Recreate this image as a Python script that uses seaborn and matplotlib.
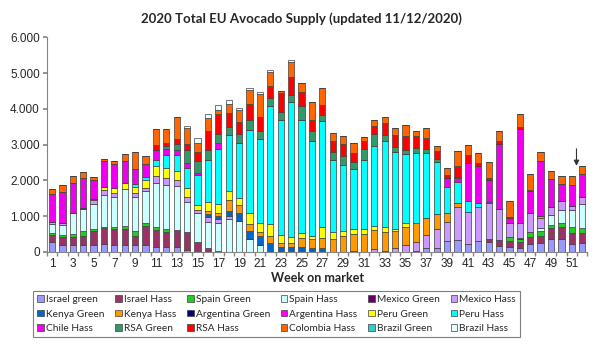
"""Stacked weekly bars of EU avocado supply per origin, 2020."""

import pandas as pd
import seaborn as sns
import matplotlib.pyplot as plt
from matplotlib.patches import Patch
from matplotlib.ticker import FuncFormatter, FixedLocator

weeks = list(range(1, 53))

israel_green = [290, 200, 200, 200, 200, 220, 200, 200, 200, 200, 150, 150, 150, 60,
                0, 0, 0, 0, 0, 0, 0, 0, 0, 0, 0, 0, 0, 0, 0, 0, 0, 0, 0, 0, 0,
                40, 120, 100, 310, 340, 220, 320, 270, 180, 150, 100, 220, 240, 350,
                350, 220, 240]
israel_hass = [190, 230, 210, 250, 390, 440, 440, 450, 260, 530, 470, 420, 470, 510,
               270, 100, 40,
               0, 0, 0, 0, 0, 0, 0, 0, 0, 0, 0, 0, 0, 0, 0, 0, 0, 0, 0, 0, 0, 0, 0,
               0, 0,
               80, 160, 170, 170, 190, 210, 310, 360, 310, 300]
spain_green = [50, 50, 80, 140, 60, 50, 70, 80, 140, 80, 70, 70, 0,
               0, 0, 0, 0, 0, 0, 0, 0, 0, 0, 0, 0, 0, 0, 0, 0, 0, 0, 0, 0, 0, 0, 0,
               0, 0, 0, 0, 0, 0, 0, 0,
               90, 80, 140, 140, 90, 90, 170, 140]
spain_hass = [250, 280, 590, 610, 680, 890, 840, 1030, 950, 890, 1250, 1240, 1230, 840,
              830, 750, 770, 920, 870, 360, 200,
              0, 0, 0, 0, 0, 0, 0, 0, 0, 0, 0, 0, 0, 0, 0, 0, 0, 0, 0, 0, 0, 0, 0, 0,
              0, 0,
              70, 280, 370, 480, 660]
mexico_green = [0, 0, 0, 30, 0, 0, 0, 0, 0, 0, 0, 0, 0, 0, 0, 0, 0, 0, 0, 0, 0, 0, 0,
                0, 0, 0, 0, 0, 0, 40, 0, 0, 40, 0, 0, 0, 0, 0, 0, 0, 0, 0, 0, 0, 0,
                50, 0, 0, 0, 0, 0, 0]
mexico_hass = [50, 60, 0, 0, 110, 140, 90, 0, 90, 90, 190, 190, 170, 140, 80, 140, 120,
               80,
               0, 0, 0, 0, 0, 0, 0, 0, 0, 0, 0, 0, 0,
               70, 0, 100, 200, 230, 360, 540, 520, 930, 890, 950, 1010, 860, 410, 400,
               540, 280, 230, 260, 110, 190]
kenya_green = [0, 0, 0, 0, 0, 0, 0, 0, 0, 0, 0, 0, 0, 0, 0,
               70, 90, 140, 220, 230, 250, 240, 150, 130, 130, 100, 100,
               0, 0, 0, 0, 0, 0, 0, 0, 0, 0, 0, 0, 0, 0, 0, 0, 0, 0, 0, 0, 0, 0, 0,
               0, 0]
kenya_hass = [0, 0, 0, 0, 50, 0, 0, 0, 0, 0, 0, 0, 0, 0, 0,
              90, 70, 300, 210, 190, 110, 210, 90, 110, 250, 260, 300, 360, 450, 470,
              500, 540, 530, 500, 510, 530, 470, 420, 270, 110,
              0, 0, 0, 0, 0, 0, 0, 60, 0, 0, 0, 0]
argentina_green = [0] * 52
argentina_hass = [0] * 52
peru_green = [0, 0, 0, 0, 0,
              90, 140, 170, 190, 230, 260, 280, 230, 230, 140, 260, 250, 260, 210, 310,
              240, 330, 230, 170, 140, 90, 310, 200, 150, 130, 140, 120, 120, 40, 110,
              0, 0, 0, 0, 0, 0, 0, 0, 0, 0, 0, 0, 0, 0, 0, 0, 0]
peru_hass = [0, 0, 0, 0, 0, 0, 0, 0,
             70, 80, 190, 370, 470, 580, 820, 1170, 1550, 1560, 1540, 2320, 2360, 3300,
             3220, 3780, 3160, 2660, 2940, 2010, 1820, 1680, 1940, 2240, 2400, 2160,
             1920, 1960, 1820, 1450, 710, 590, 310, 90, 50,
             0, 0, 0, 0, 0, 0, 0, 0, 0]
chile_hass = [790, 870, 840, 830, 510, 700, 680, 610, 420, 370, 280, 160, 140, 120, 70,
              0, 160,
              0, 0, 0, 0, 0, 0, 0, 0, 0, 0, 0, 0, 0, 0, 0, 0, 0, 0, 0, 0, 0,
              250, 90, 1070, 1030, 590, 1830, 120, 2640, 610, 1540, 770, 460, 590, 650]
rsa_green = [0, 0, 0, 0, 0, 0, 0, 0, 0, 0, 0,
             70, 170, 360, 330, 260, 250, 230, 250, 280, 220, 210, 220, 200, 410, 260,
             170, 220, 250, 190, 310, 320, 170, 140, 120, 140, 110, 80,
             0, 50, 0, 0, 0, 0, 0, 0, 0, 0, 0, 0, 0, 0]
rsa_hass = [0, 0, 0, 0, 0, 0, 0, 0, 0, 0,
            140, 110, 130, 180, 250, 530, 560, 400, 340, 440, 400, 350, 530, 510, 380,
            310, 280, 310, 350, 260, 200, 240, 350, 340, 370, 330, 310, 220, 90, 300,
            230, 90, 80, 60, 50, 50, 40, 0, 0, 0, 0, 0]
colombia_hass = [140, 190, 210, 170, 110, 70, 90, 210, 480, 220, 440, 380, 620, 440,
                 260, 380, 120, 260, 320, 390, 640, 400, 50, 410, 250, 510, 470, 230,
                 210, 280, 120, 170, 170, 190, 330, 140, 280, 140, 210, 400, 280, 280,
                 430, 300, 440, 370, 440, 260, 240, 230, 250, 210]
brazil_green = [0] * 52
brazil_hass = [0, 0, 0, 0, 0, 0, 0, 0, 0, 0, 0, 0, 0,
               60, 140, 110, 140, 110, 70, 70, 60, 60, 0, 50,
               0, 0, 0, 0, 0, 0, 0, 0, 0, 0, 0, 0, 0, 0, 0, 0, 0, 0, 0, 0, 0, 0, 0,
               0, 0, 0, 0, 0]

series_names = ["Israel green", "Israel Hass", "Spain Green", "Spain Hass",
                "Mexico Green", "Mexico Hass", "Kenya Green", "Kenya Hass",
                "Argentina Green", "Argentina Hass", "Peru Green", "Peru Hass",
                "Chile Hass", "RSA Green", "RSA Hass", "Colombia Hass",
                "Brazil Green", "Brazil Hass"]
series_values = [israel_green, israel_hass, spain_green, spain_hass, mexico_green,
                 mexico_hass, kenya_green, kenya_hass, argentina_green,
                 argentina_hass, peru_green, peru_hass, chile_hass, rsa_green,
                 rsa_hass, colombia_hass, brazil_green, brazil_hass]
series_colors = ["#9999FF", "#993366", "#22CC22", "#CCFFFF", "#660066", "#CC99FF",
                 "#0066CC", "#FF9900", "#000080", "#FF00FF", "#FFFF00", "#00FFFF",
                 "#EE00EE", "#339966", "#FF0000", "#FF6600", "#33CCCC", "#E6FFFF"]


def build_table():
    """Long table: one row per week and origin."""
    rows = []
    for name, values in zip(series_names, series_values):
        for week, value in zip(weeks, values):
            rows.append({"week": week, "series": name, "value": value})
    return pd.DataFrame(rows)


def supply_plot(data):
    """Draw the stacked bars, axes, legend and arrow."""
    sns.set_theme(style="white")
    plt.rcParams["font.family"] = ["Liberation Sans", "DejaVu Sans"]

    fig = plt.figure(figsize=(6, 3.5), dpi=100)
    ax = fig.add_axes([0.078, 0.28, 0.901, 0.6134])

    palette = dict(zip(series_names, series_colors))
    # seaborn stacks the last hue level at the bottom
    sns.histplot(data=data, x="week", weights="value", hue="series",
                 hue_order=series_names[::-1], palette=palette,
                 multiple="stack", discrete=True, shrink=0.6, alpha=1,
                 edgecolor="#404040", linewidth=0.5, legend=False, ax=ax)

    ax.set_xlim(0.5, 52.5)
    ax.set_ylim(0, 6000)
    ax.set_yticks(range(0, 6001, 1000))
    ax.yaxis.set_major_formatter(
        FuncFormatter(lambda v, _: f"{int(v):,}".replace(",", ".")))
    ax.set_xticks(range(1, 53, 2))
    ax.xaxis.set_minor_locator(FixedLocator([w + 0.5 for w in range(0, 53)]))
    ax.tick_params(axis="x", which="major", length=0, labelsize=8.5, pad=4)
    ax.tick_params(axis="x", which="minor", length=3, color="#868686",
                   direction="out", bottom=True)
    ax.tick_params(axis="y", length=3, color="#868686", direction="out",
                   left=True, labelsize=8.5, pad=2)

    for side in ["top", "right"]:
        ax.spines[side].set_visible(False)
    for side in ["left", "bottom"]:
        ax.spines[side].set_color("#868686")
        ax.spines[side].set_linewidth(0.8)

    ax.set_ylabel("")
    ax.set_xlabel("Week on market", fontsize=9, fontweight="bold",
                  family=["Lato", "DejaVu Sans"], labelpad=2)

    fig.text(0.503, 0.948, "2020 Total EU Avocado Supply (updated 11/12/2020)",
             ha="center", va="center", fontsize=9.5, fontweight="bold",
             family=["Lato", "DejaVu Sans"])

    ax.annotate("", xy=(51.45, 2330), xytext=(51.45, 2960),
                arrowprops=dict(arrowstyle="-|>", color="#333333", lw=0.8,
                                mutation_scale=8))

    # legend reads row by row, matplotlib fills columns first
    handles = [Patch(facecolor=c, edgecolor="#404040", linewidth=0.5, label=n)
               for n, c in zip(series_names, series_colors)]
    ordered = [handles[r * 6 + c] for c in range(6) for r in range(3)]
    legend = fig.legend(handles=ordered, ncol=6, mode="expand",
                        loc="lower left", bbox_to_anchor=(0.047, 0.022, 0.828, 0.157),
                        prop={"family": ["Lato", "DejaVu Sans"], "size": 7.3},
                        handlelength=0.65, handleheight=0.65, handletextpad=0.2,
                        labelspacing=0.55, borderpad=0.4, columnspacing=0.2,
                        fancybox=False, framealpha=1, edgecolor="#7F7F7F")
    legend.get_frame().set_linewidth(0.8)

    fig.savefig("out.png", dpi=100)
    plt.close(fig)


if __name__ == "__main__":
    supply_plot(build_table())
